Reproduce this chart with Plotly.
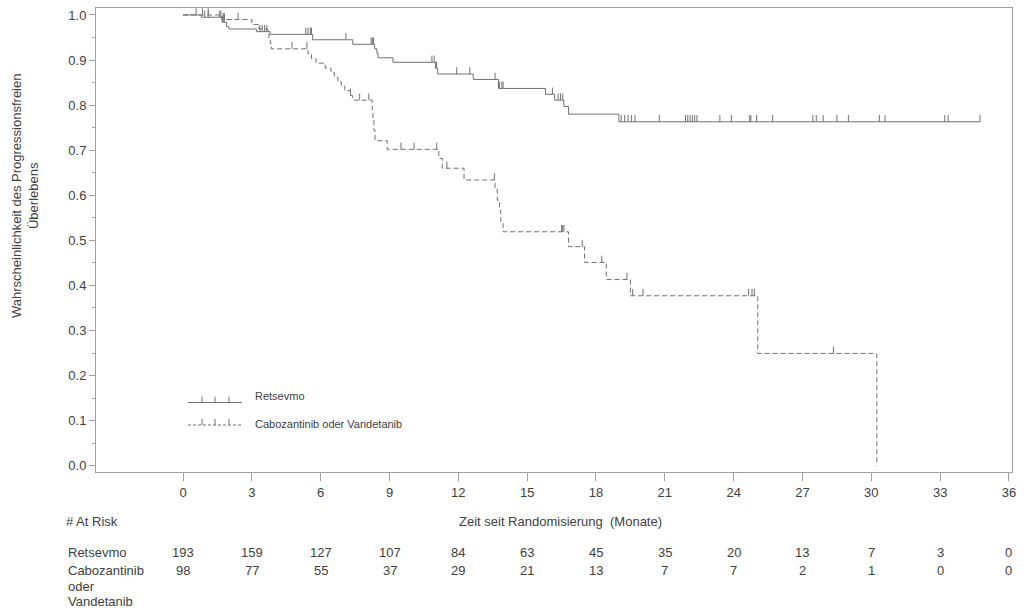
import numpy as np
import plotly.graph_objects as go

# Kaplan-Meier Schaetzer, Zeit in Monaten
ret_time = [0, 0.8, 1.7, 1.9, 2.0, 3.2, 3.8, 5.65, 7.4, 8.35, 8.45, 8.5, 9.15,
            11.0, 11.1, 12.65, 13.75, 15.8, 16.2, 16.6, 16.8, 19.0]
ret_surv = [1.0, 0.995, 0.984, 0.974, 0.969, 0.963, 0.957, 0.945, 0.935, 0.925,
            0.915, 0.905, 0.895, 0.882, 0.869, 0.857, 0.837, 0.824, 0.811, 0.797,
            0.780, 0.763]
ret_cens = [0.57, 0.95, 1.1, 1.6, 1.65, 1.75, 1.8, 3.35, 3.45, 3.55, 3.65, 5.35,
            5.45, 5.55, 5.6, 7.1, 8.2, 8.25, 8.3, 10.85, 10.95, 11.05, 11.93, 12.5,
            13.6, 13.8, 13.9, 13.95, 16.1, 16.35, 16.45, 16.55, 19.1, 19.25, 19.4,
            19.55, 19.7, 20.76, 21.9, 22.0, 22.1, 22.2, 22.3, 22.4, 23.4, 23.9,
            24.7, 24.75, 25.0, 25.7, 27.45, 27.6, 27.9, 28.5, 29.0, 30.35, 30.6,
            33.2, 33.35, 34.74]

cab_time = [0, 1.7, 3.0, 3.3, 3.7, 3.75, 3.8, 3.85, 5.45, 5.6, 5.8, 6.2, 6.45,
            6.6, 6.75, 6.9, 7.05, 7.3, 7.4, 8.25, 8.28, 8.32, 8.37, 8.9, 11.15,
            11.3, 12.25, 13.6, 13.7, 13.8, 13.85, 13.95, 16.8, 17.5, 18.45, 19.5,
            25.05, 30.24]
cab_surv = [1.0, 0.990, 0.979, 0.969, 0.958, 0.948, 0.937, 0.925, 0.914, 0.903,
            0.893, 0.882, 0.872, 0.862, 0.852, 0.842, 0.832, 0.821, 0.811, 0.790,
            0.767, 0.744, 0.721, 0.702, 0.682, 0.660, 0.634, 0.612, 0.589, 0.566,
            0.542, 0.519, 0.486, 0.451, 0.413, 0.377, 0.249, 0.0]
cab_cens = [0.85, 1.1, 1.75, 1.8, 2.4, 4.75, 5.4, 7.3, 7.7, 8.1, 9.5, 10.07,
            11.06, 11.5, 13.57, 16.5, 16.55, 16.6, 17.4, 18.25, 19.35, 19.6, 20.05,
            24.65, 24.8, 24.9, 28.35]

# Patienten unter Risiko
risk_times = [0, 3, 6, 9, 12, 15, 18, 21, 24, 27, 30, 33, 36]
ret_risk = [193, 159, 127, 107, 84, 63, 45, 35, 20, 13, 7, 3, 0]
cab_risk = [98, 77, 55, 37, 29, 21, 13, 7, 7, 2, 1, 0, 0]

x_ticks = list(range(0, 37, 3))

FONT = "Liberation Sans, Arial, sans-serif"
TXT = "#404040"
LINE = "#707070"
AX = "#a0a0a0"

# plot area in pixels
L, R, T, B = 96, 1012, 8, 472
W, H = 1026, 611


def pxx(x):
    return (x - L) / (R - L)


def pxy(y):
    return (B - y) / (B - T)


def surv_at(times, surv, t):
    i = np.searchsorted(times, t, side="right") - 1
    return surv[i]


fig = go.Figure()

# Retsevmo
fig.add_trace(go.Scatter(
    x=ret_time + [max(ret_cens)], y=ret_surv + [ret_surv[-1]],
    mode="lines", line=dict(color=LINE, width=1, shape="hv"),
    showlegend=False, hoverinfo="skip"))
# Cabozantinib oder Vandetanib
fig.add_trace(go.Scatter(
    x=cab_time, y=cab_surv,
    mode="lines", line=dict(color=LINE, width=1, shape="hv", dash="5px,3px"),
    showlegend=False, hoverinfo="skip"))

# censoring marks as small upward ticks
tick_h = 0.015
for times, surv, cens in [(ret_time, ret_surv, ret_cens), (cab_time, cab_surv, cab_cens)]:
    cy = [surv_at(times, surv, t) for t in cens]
    fig.add_trace(go.Scatter(
        x=cens, y=cy, mode="markers",
        marker=dict(size=1, color="rgba(0,0,0,0)"),
        error_y=dict(type="data", symmetric=False, array=[tick_h] * len(cens),
                     arrayminus=[0] * len(cens), width=0, thickness=1, color=LINE),
        showlegend=False, hoverinfo="skip"))

annotations = []
shapes = []

# y axis title
annotations.append(dict(
    text="Wahrscheinlichkeit des Progressionsfreien<br>Überlebens",
    textangle=-90, x=pxx(25), y=pxy(196), xref="paper", yref="paper",
    xanchor="center", yanchor="middle", showarrow=False,
    font=dict(family=FONT, size=13, color=TXT)))

# x axis title
annotations.append(dict(
    text="Zeit seit Randomisierung  (Monate)", x=pxx(560), y=pxy(521),
    xref="paper", yref="paper", xanchor="center", yanchor="middle",
    showarrow=False, font=dict(family=FONT, size=13, color=TXT)))

# at risk table
annotations.append(dict(
    text="# At Risk", x=pxx(64), y=pxy(521), xref="paper", yref="paper",
    xanchor="left", yanchor="middle", showarrow=False,
    font=dict(family=FONT, size=13, color=TXT)))
row_labels = [("Retsevmo", 552), ("Cabozantinib", 570), ("oder", 586), ("Vandetanib", 601)]
for lab, yy in row_labels:
    annotations.append(dict(
        text=lab, x=pxx(66), y=pxy(yy), xref="paper", yref="paper",
        xanchor="left", yanchor="middle", showarrow=False,
        font=dict(family=FONT, size=13, color=TXT)))
for counts, yy in [(ret_risk, 552), (cab_risk, 570)]:
    for t, n in zip(risk_times, counts):
        annotations.append(dict(
            text=str(n), x=t, y=pxy(yy), xref="x", yref="paper",
            xanchor="center", yanchor="middle", showarrow=False,
            font=dict(family=FONT, size=13, color=TXT)))

# legend (drawn by hand to show the censoring ticks)
legend_items = [("Retsevmo", "solid", 402.5, 396), ("Cabozantinib oder Vandetanib", "3px,2px", 425, 423.5)]
for name, dash, ly, ty in legend_items:
    shapes.append(dict(type="line", xref="paper", yref="paper",
                       x0=pxx(188), x1=pxx(242), y0=pxy(ly), y1=pxy(ly),
                       line=dict(color=LINE, width=1, dash=dash)))
    for tx in (202, 215, 229):
        shapes.append(dict(type="line", xref="paper", yref="paper",
                           x0=pxx(tx), x1=pxx(tx), y0=pxy(ly), y1=pxy(ly - 6),
                           line=dict(color=LINE, width=1)))
    annotations.append(dict(
        text=name, x=pxx(253), y=pxy(ty), xref="paper", yref="paper",
        xanchor="left", yanchor="middle", showarrow=False,
        font=dict(family=FONT, size=11, color=TXT)))

fig.update_layout(
    width=W, height=H,
    margin=dict(l=L, r=W - R, t=T, b=H - B, pad=0),
    paper_bgcolor="white", plot_bgcolor="white",
    font=dict(family=FONT, size=13, color=TXT),
    annotations=annotations, shapes=shapes,
    xaxis=dict(range=[(L - 183) / 22.944, (R - 183) / 22.944],
               tickvals=x_ticks, ticks="outside", ticklen=8, tickcolor=AX,
               showline=True, linecolor=AX, linewidth=1, mirror=True,
               showgrid=False, zeroline=False,
               tickfont=dict(family=FONT, size=13, color=TXT)),
    yaxis=dict(range=[-0.014, 1.0155], tickvals=[i / 10 for i in range(11)],
               tickformat=".1f", ticks="outside", ticklen=6, tickcolor=AX,
               showline=True, linecolor=AX, linewidth=1, mirror=True,
               showgrid=False, zeroline=False,
               minor=dict(dtick=0.05, ticks="outside", ticklen=3, tickcolor=AX),
               tickfont=dict(family=FONT, size=13, color=TXT)),
)

# no page margin, so the figure fills the window exactly
fig.write_html("out.html", config={"displayModeBar": False},
               post_script="document.body.style.margin='0px';")
